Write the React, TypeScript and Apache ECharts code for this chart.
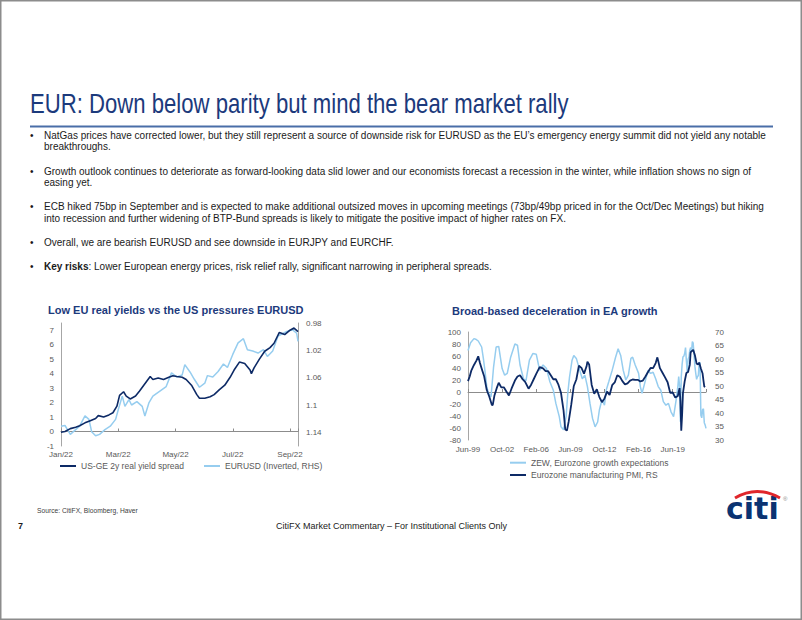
import React, { useEffect, useRef } from 'react';
import * as echarts from 'echarts';

// ---------------- Text ----------------
const TITLE = 'EUR: Down below parity but mind the bear market rally';
const BULLETS: string[][] = [
  [
    'NatGas prices have corrected lower, but they still represent a source of downside risk for EURUSD as the EU’s emergency energy summit did not yield any notable',
    'breakthroughs.',
  ],
  [
    'Growth outlook continues to deteriorate as forward-looking data slid lower and our economists forecast a recession in the winter, while inflation shows no sign of',
    'easing yet.',
  ],
  [
    'ECB hiked 75bp in September and is expected to make additional outsized moves in upcoming meetings (73bp/49bp priced in for the Oct/Dec Meetings) but hiking',
    'into recession and further widening of BTP-Bund spreads is likely to mitigate the positive impact of higher rates on FX.',
  ],
  ['Overall, we are bearish EURUSD and see downside in EURJPY and EURCHF.'],
  ['{b|Key risks}: Lower European energy prices, risk relief rally, significant narrowing in peripheral spreads.'],
];
const LEFT_TITLE = 'Low EU real yields vs the US pressures EURUSD';
const RIGHT_TITLE = 'Broad-based deceleration in EA growth';
const SOURCE = 'Source: CitiFX, Bloomberg, Haver';
const FOOTER = 'CitiFX Market Commentary – For Institutional Clients Only';
const PAGE = '7';

// ---------------- Left chart data (business-day index from 3 Jan 2022) ----------------
const SPREAD_NAME = 'US-GE 2y real yield spread';
const EUR_NAME = 'EURUSD (Inverted, RHS)';
const LEFT_X_LABELS = ['Jan/22', 'Mar/22', 'May/22', 'Jul/22', 'Sep/22'];
const SPREAD_DAY = [0, 3, 7, 11, 14, 18, 22, 26, 28, 32, 36, 39, 42, 44, 47, 49, 52, 56, 59, 63, 67, 69, 73, 77, 81, 84, 87, 91, 94, 98, 102, 104, 108, 112, 115, 119, 123, 127, 130, 134, 138, 142, 143, 145, 149, 153, 157, 160, 164, 168, 172, 175, 178];
const SPREAD_VAL = [-0.05, 0.0, 0.2, 0.3, 0.4, 0.6, 0.75, 0.9, 1.1, 1.0, 1.15, 1.3, 1.75, 2.5, 2.75, 2.45, 2.25, 2.45, 2.8, 3.3, 3.8, 3.6, 3.7, 3.6, 3.75, 3.85, 3.8, 3.75, 3.6, 3.2, 2.55, 2.3, 2.3, 2.4, 2.55, 2.9, 3.2, 3.75, 4.25, 4.8, 4.7, 4.25, 4.0, 4.4, 5.0, 5.55, 5.8, 6.1, 6.85, 6.7, 7.0, 7.15, 6.9];
const EUR_DAY = [0, 3, 7, 11, 14, 18, 21, 23, 26, 29, 33, 37, 41, 43, 46, 48, 51, 53, 57, 61, 63, 66, 69, 74, 79, 83, 87, 91, 93, 97, 100, 104, 108, 110, 114, 118, 122, 125, 129, 133, 137, 140, 144, 148, 152, 155, 159, 163, 167, 170, 174, 177, 178];
const EUR_VAL = [1.131, 1.13, 1.143, 1.136, 1.131, 1.116, 1.121, 1.139, 1.145, 1.143, 1.136, 1.131, 1.121, 1.107, 1.087, 1.102, 1.092, 1.1, 1.095, 1.102, 1.116, 1.097, 1.087, 1.08, 1.073, 1.053, 1.059, 1.056, 1.041, 1.052, 1.062, 1.074, 1.068, 1.057, 1.059, 1.051, 1.04, 1.045, 1.026, 1.009, 1.003, 1.019, 1.021, 1.024, 1.019, 1.029, 1.021, 0.999, 0.995, 0.992, 0.99, 0.995, 1.007];

// ---------------- Right chart data (month index, 0 = Jun-1999) ----------------
const ZEW_NAME = 'ZEW, Eurozone growth expectations';
const PMI_NAME = 'Eurozone manufacturing PMI, RS';
const RIGHT_X_LABELS = ['Jun-99', 'Oct-02', 'Feb-06', 'Jun-09', 'Oct-12', 'Feb-16', 'Jun-19'];
const ZEW_MONTH = [0, 3, 7, 9, 12, 16, 18, 20, 22, 24, 27, 30, 33, 36, 40, 43, 46, 50, 55, 58, 61, 65, 68, 72, 76, 80, 84, 88, 92, 96, 100, 103, 107, 109, 112, 115, 117, 119, 122, 124, 127, 131, 134, 137, 140, 143, 146, 149, 152, 154, 157, 160, 162, 165, 169, 173, 176, 179, 182, 185, 188, 191, 193, 196, 200, 202, 204, 207, 211, 214, 217, 220, 223, 226, 229, 232, 235, 238, 241, 244, 246, 247, 248, 249, 250, 251, 252, 253, 254, 255, 256, 257, 258, 259, 260, 261, 262, 263, 264, 265, 266, 267, 268, 269, 270, 271, 272, 273, 274, 275, 276, 277, 278, 279];
const ZEW_VAL = [69, 82, 89, 88, 85, 75, 56, 34, 9, -2, -8, 42, 75, 76, 39, 28, 31, 58, 80, 78, 45, 22, 19, 53, 64, 63, 36, 45, 39, 17, 3, -19, -41, -58, -63, -41, -2, 25, 53, 61, 56, 36, 22, 28, 9, -19, -44, -58, -50, -30, -13, -22, 3, 17, 36, 58, 72, 61, 36, 20, 28, 56, 58, 45, 31, 9, -2, 14, 36, 31, 33, 22, 9, 3, -16, -22, -19, -33, -41, -13, 9, 25.6, 10.4, -49.5, 25.2, 46, 58.6, 59.6, 64, 73.9, 52.3, 32.8, 54.4, 58.3, 69.6, 74, 66.3, 84, 81.3, 61.2, 42.7, 31.1, 21, 25.9, 26.8, 49.4, 48.6, -38.7, -43, -29.5, -28, -51.1, -54.9, -60.7];
const PMI_MONTH = [0, 2, 4, 7, 10, 12, 14, 17, 19, 22, 25, 28, 29, 31, 34, 36, 39, 42, 45, 48, 51, 55, 58, 61, 64, 67, 71, 74, 77, 80, 84, 88, 91, 94, 97, 100, 103, 106, 109, 112, 114, 116, 118, 121, 124, 127, 130, 133, 136, 139, 140, 142, 145, 148, 151, 154, 157, 160, 163, 166, 169, 172, 175, 178, 181, 184, 187, 190, 193, 196, 199, 202, 205, 208, 211, 214, 217, 220, 222, 225, 228, 231, 234, 237, 240, 243, 246, 247, 248, 249, 250, 251, 252, 254, 256, 258, 260, 261, 263, 264, 266, 268, 270, 271, 273, 275, 276, 277, 278];
const PMI_VAL = [51.8, 53.5, 55.8, 57.8, 59.5, 61.0, 58.5, 55.5, 53.5, 48.5, 46.0, 43.0, 42.9, 46.5, 49.5, 51.2, 49.5, 49.5, 48.0, 46.5, 49.0, 52.0, 53.5, 54.0, 52.5, 51.5, 49.0, 50.5, 52.5, 54.5, 57.0, 56.5, 55.5, 55.5, 54.0, 52.5, 52.5, 50.5, 47.5, 41.0, 33.9, 33.5, 36.8, 43.0, 50.0, 52.4, 57.5, 56.7, 54.6, 57.3, 59.0, 58.0, 50.4, 47.1, 48.8, 45.9, 44.0, 45.4, 47.9, 46.7, 50.3, 51.3, 54.0, 53.4, 51.8, 50.6, 51.0, 52.0, 52.4, 52.3, 52.3, 51.7, 52.0, 53.5, 55.2, 56.7, 56.6, 58.5, 60.6, 56.6, 54.9, 53.2, 51.4, 47.5, 47.6, 45.7, 46.3, 47.9, 49.2, 44.5, 33.4, 39.4, 47.4, 51.7, 54.8, 55.2, 57.9, 62.5, 63.1, 63.4, 61.4, 58.3, 58.0, 58.7, 56.5, 54.6, 52.1, 49.8, 49.6];

// ---------------- Styles ----------------
const NAVY = '#0d2a66';
const LIGHT = '#96cdef';
const AXIS = '#a6a6a6';
const ZERO = '#8c8c8c';
const LABEL = '#595959';
const HEAD = '#1c3a7c';
const FONT = '"Liberation Sans", Arial, Helvetica, sans-serif';

const pairs = (xs: number[], ys: number[]) => xs.map((x, i) => [x, ys[i]]);

function buildGraphics() {
  const g: any[] = [];
  g.push({ type: 'rect', silent: true, shape: { x: 0.75, y: 0.75, width: 800.5, height: 618.5 }, style: { fill: 'none', stroke: '#8c8c8c', lineWidth: 1.5 } });
  g.push({ type: 'text', x: 30, y: 104, scaleX: 0.82, style: { text: TITLE, fontSize: 27, fontFamily: FONT, fill: HEAD, verticalAlign: 'middle' } });
  g.push({ type: 'line', shape: { x1: 30, y1: 126.5, x2: 773, y2: 126.5 }, style: { stroke: '#4a6ea8', lineWidth: 2 } });
  const lineY = [[135, 146.7], [171, 182.7], [206.7, 218.7], [242.7], [266.7]];
  BULLETS.forEach((para, pi) => {
    g.push({ type: 'text', x: 30, y: lineY[pi][0], style: { text: '•', fontSize: 10, fontFamily: FONT, fill: '#1a1a1a', verticalAlign: 'middle' } });
    para.forEach((ln, li) => {
      g.push({
        type: 'text', x: 44, y: lineY[pi][li],
        style: { text: ln, fontSize: 10, fontFamily: FONT, fill: '#1a1a1a', verticalAlign: 'middle', rich: { b: { fontWeight: 'bold', fontSize: 10, fontFamily: FONT, fill: '#1a1a1a' } } },
      });
    });
  });
  g.push({ type: 'text', x: 48, y: 310, style: { text: LEFT_TITLE, fontSize: 11, fontWeight: 'bold', fontFamily: FONT, fill: HEAD, verticalAlign: 'middle' } });
  g.push({ type: 'text', x: 452, y: 310.5, style: { text: RIGHT_TITLE, fontSize: 11, fontWeight: 'bold', fontFamily: FONT, fill: HEAD, verticalAlign: 'middle' } });
  g.push({ type: 'text', x: 37, y: 510.7, style: { text: SOURCE, fontSize: 6.7, fontFamily: FONT, fill: '#404040', verticalAlign: 'middle' } });
  g.push({ type: 'text', x: 18, y: 526, style: { text: PAGE, fontSize: 9, fontWeight: 'bold', fontFamily: FONT, fill: '#1a1a1a', verticalAlign: 'middle' } });
  g.push({ type: 'text', x: 276, y: 526, style: { text: FOOTER, fontSize: 9, fontFamily: FONT, fill: '#222', verticalAlign: 'middle' } });
  // Citi logo
  g.push({ type: 'text', x: 726, y: 508, style: { text: 'citi', fontSize: 30, fontWeight: 'bold', fontFamily: '"DejaVu Sans", sans-serif', fill: '#0b3372', verticalAlign: 'middle' } });
  g.push({ type: 'bezierCurve', shape: { x1: 735, y1: 498, cpx1: 757, cpy1: 485, x2: 780, y2: 498 }, style: { stroke: '#e0262b', lineWidth: 3, fill: 'none' } });
  g.push({ type: 'text', x: 783, y: 499, style: { text: '®', fontSize: 6, fontFamily: FONT, fill: '#888', verticalAlign: 'middle' } });
  return g;
}

const labelAxis = (grid: number, max: number, interval: number, labels: string[], margin: number) => ({
  gridIndex: grid, type: 'value', min: 0, max, interval, position: 'bottom',
  axisLine: { show: false, onZero: false }, axisTick: { show: false }, splitLine: { show: false },
  axisLabel: {
    fontSize: 8, color: LABEL, fontFamily: FONT, margin, showMaxLabel: false,
    formatter: (v: number) => (v % interval === 0 ? labels[v / interval] ?? '' : ''),
  },
});
const zeroAxis = (grid: number, max: number, interval: number) => ({
  gridIndex: grid, type: 'value', min: 0, max, interval, position: 'bottom',
  axisLine: { show: true, onZero: true, lineStyle: { color: ZERO, width: 1 } },
  axisTick: { show: true, inside: true, length: 3, lineStyle: { color: ZERO } },
  axisLabel: { show: false }, splitLine: { show: false },
});

export default function App() {
  const ref = useRef<HTMLDivElement>(null);
  useEffect(() => {
    if (!ref.current) return;
    const chart = echarts.init(ref.current, undefined, { renderer: 'svg' });
    const yLab = { fontSize: 8, color: LABEL, fontFamily: FONT };
    chart.setOption({
      animation: false,
      backgroundColor: '#ffffff',
      textStyle: { fontFamily: FONT },
      graphic: buildGraphics(),
      grid: [
        { left: 61, top: 323, width: 237, height: 123, outerBoundsMode: 'none' },
        { left: 468, top: 332, width: 238, height: 108, outerBoundsMode: 'none' },
      ],
      legend: [
        {
          data: [SPREAD_NAME, EUR_NAME], left: 60, top: 461, padding: 0, icon: 'rect', itemWidth: 16, itemHeight: 2, itemGap: 20,
          selectedMode: false, textStyle: { fontSize: 8.5, color: LABEL, fontFamily: FONT, lineHeight: 10 },
        },
        {
          data: [ZEW_NAME, PMI_NAME], orient: 'vertical', left: 510, top: 457.7, padding: 0, icon: 'rect', itemWidth: 16, itemHeight: 2, itemGap: 2.3,
          selectedMode: false, textStyle: { fontSize: 8.5, color: LABEL, fontFamily: FONT, lineHeight: 10 },
        },
      ],
      xAxis: [
        labelAxis(0, 178, 43, LEFT_X_LABELS, 4),
        zeroAxis(0, 178, 43),
        labelAxis(1, 279, 40, RIGHT_X_LABELS, 5),
        zeroAxis(1, 279, 40),
      ],
      yAxis: [
        {
          gridIndex: 0, type: 'value', min: -1, max: 7.5, interval: 1, position: 'left',
          axisLine: { show: true, onZero: false, lineStyle: { color: AXIS } }, axisTick: { show: false }, splitLine: { show: false },
          axisLabel: { ...yLab, margin: 7, showMaxLabel: false },
        },
        {
          gridIndex: 0, type: 'value', inverse: true, min: 0.98, max: 1.16, interval: 0.04, position: 'right',
          axisLine: { show: true, onZero: false, lineStyle: { color: AXIS } }, axisTick: { show: false }, splitLine: { show: false },
          axisLabel: { ...yLab, margin: 8, showMaxLabel: false, formatter: (v: number) => String(+v.toFixed(2)) },
        },
        {
          gridIndex: 1, type: 'value', min: -80, max: 100, interval: 20, position: 'left',
          axisLine: { show: true, onZero: false, lineStyle: { color: AXIS } }, axisTick: { show: false }, splitLine: { show: false },
          axisLabel: { ...yLab, margin: 7 },
        },
        {
          gridIndex: 1, type: 'value', min: 30, max: 70, interval: 5, position: 'right',
          axisLine: { show: false, onZero: false }, axisTick: { show: false }, splitLine: { show: false },
          axisLabel: { ...yLab, margin: 9 },
        },
      ],
      series: [
        { name: EUR_NAME, type: 'line', xAxisIndex: 0, yAxisIndex: 1, data: pairs(EUR_DAY, EUR_VAL), symbol: 'none', lineStyle: { color: LIGHT, width: 1.5 }, itemStyle: { color: LIGHT }, z: 2 },
        { name: SPREAD_NAME, type: 'line', xAxisIndex: 0, yAxisIndex: 0, data: pairs(SPREAD_DAY, SPREAD_VAL), symbol: 'none', lineStyle: { color: NAVY, width: 1.6 }, itemStyle: { color: NAVY }, z: 3 },
        { name: ZEW_NAME, type: 'line', xAxisIndex: 2, yAxisIndex: 2, data: pairs(ZEW_MONTH, ZEW_VAL), symbol: 'none', lineStyle: { color: LIGHT, width: 1.5 }, itemStyle: { color: LIGHT }, z: 2 },
        { name: PMI_NAME, type: 'line', xAxisIndex: 2, yAxisIndex: 3, data: pairs(PMI_MONTH, PMI_VAL), symbol: 'none', lineStyle: { color: NAVY, width: 1.8 }, itemStyle: { color: NAVY }, z: 3 },
      ],
    });
    return () => chart.dispose();
  }, []);
  return <div ref={ref} style={{ position: 'absolute', left: 0, top: 0, width: 802, height: 620, background: '#fff' }} />;
}
